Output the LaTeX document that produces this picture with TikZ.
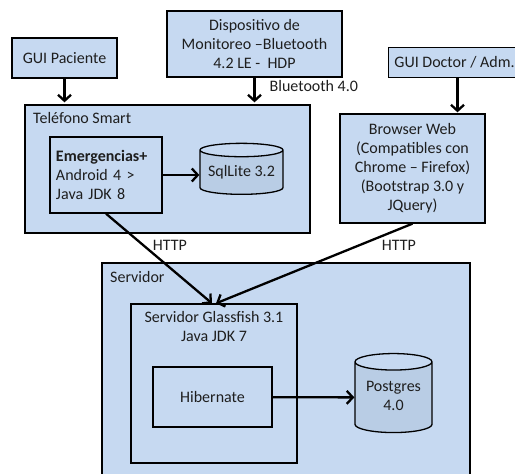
\documentclass[tikz,border=0pt]{standalone}
\usepackage{fontspec}
\setmainfont{Carlito}
\usepackage{tikz}
\usetikzlibrary{shapes.geometric,arrows.meta}
\definecolor{boxblue}{RGB}{198,217,241}
\definecolor{dbblue}{RGB}{185,205,229}
\definecolor{ink}{RGB}{30,30,30}

\begin{document}
\begin{tikzpicture}[x=1pt,y=-1pt,
    font=\fontsize{16}{19}\selectfont,text=ink,
    box/.style={draw=black,fill=boxblue,line width=1.3pt,inner sep=0pt},
    db/.style={cylinder,shape border rotate=90,aspect=0.2,draw=black,line width=1.3pt,
      cylinder uses custom fill,cylinder body fill=dbblue,cylinder end fill=boxblue,inner sep=0pt},
    arr/.style={line width=2.3pt,-{Straight Barb[length=6pt,width=13pt]}},
    tag/.style={inner sep=0pt}]
    \useasboundingbox (0,0) rectangle (515,474);

    \node[box,minimum width=105pt,minimum height=40pt] (guiPac) at (64.5,58) {GUI Paciente};
    \node[box,minimum width=175pt,minimum height=66pt,align=center] (disp) at (254.5,44)
      {Dispositivo de\\Monitoreo –Bluetooth\\4.2 LE -\ \ HDP};
    \node[box,minimum width=132pt,minimum height=30pt] (guiDoc) at (454.5,62.5) {GUI Doctor / Adm.};

    \node[box,minimum width=285pt,minimum height=128pt] (tel) at (167.5,169) {};
    \node[tag,anchor=west] (telLbl) at (33,118) {Teléfono Smart};
    \node[box,minimum width=112pt,minimum height=76pt,align=left,text width=100pt] (emg) at (106,175)
      {\textbf{Emergencias+}\\Android 4 >\\Java JDK 8};
    \node[db,minimum width=83pt,minimum height=51pt] (sql) at (241.5,172.5)
      {\raisebox{-4pt}{SqlLite 3.2}};
    \node[box,minimum width=145pt,minimum height=109pt,align=center] (web) at (412.5,168.5)
      {Browser Web\\(Compatibles con\\Chrome – Firefox)\\(Bootstrap 3.0 y\\JQuery)};

    \node[box,minimum width=368pt,minimum height=217pt] (serv) at (286,371.5) {};
    \node[tag,anchor=west] (servLbl) at (110,277) {Servidor};
    \node[box,minimum width=166pt,minimum height=159pt] (glass) at (214,383.5) {};
    \node[tag,align=center,anchor=north] (glassLbl) at (214,311) {Servidor Glassfish 3.1\\Java JDK 7};
    \node[box,minimum width=119pt,minimum height=60pt] (hib) at (212.5,397) {Hibernate};
    \node[db,minimum width=77pt,minimum height=79pt,aspect=0.3] (pg) at (393.5,397.5)
      {\raisebox{-6pt}{\begin{tabular}{@{}c@{}}Postgres\\4.0\end{tabular}}};

    \draw[arr,shorten >=2pt] (guiPac) -- (guiPac |- tel.north);
    \draw[arr,shorten >=2pt] (disp) -- (disp |- tel.north)
      node[tag,anchor=west,pos=0.3,xshift=14pt] (bt) {Bluetooth 4.0};
    \draw[arr,shorten >=1pt] ([xshift=3pt]guiDoc.south) -- ([xshift=3pt]guiDoc.south |- web.north);
    \draw[arr] (emg.east) -- (emg.east -| sql.west);
    \draw[arr] (emg.south) -- ([xshift=-2pt]glass.north);
    \draw[arr] (web.south) -- ([xshift=2pt]glass.north);
    \node[tag] (http1) at (170,245) {HTTP};
    \node[tag] (http2) at (399,245) {HTTP};
    \draw[arr] (hib) -- (pg);
\end{tikzpicture}
\end{document}
